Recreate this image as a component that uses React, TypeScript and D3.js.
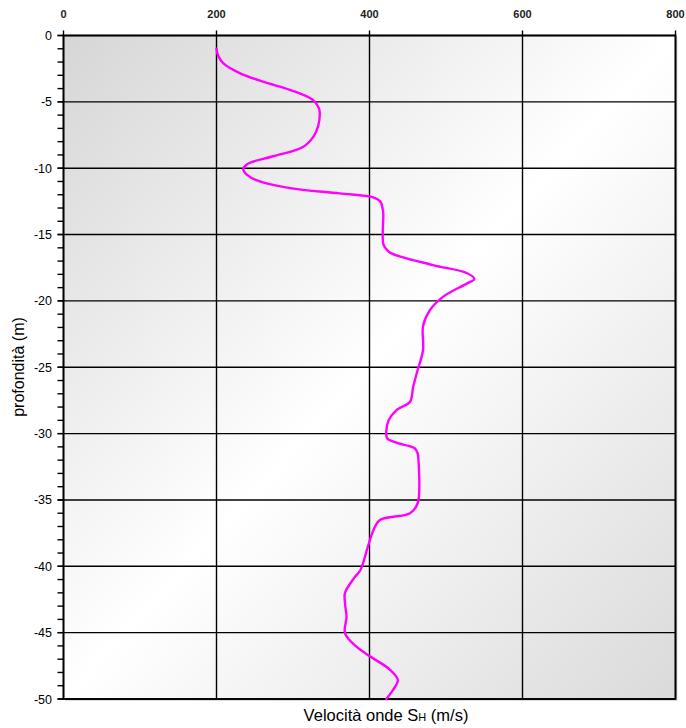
import React from "react";
import * as d3 from "d3";

// Shear-wave velocity profile: depth (m) vs Vs (m/s)
const depths: number[] = [
  -1.0, -1.5, -2.1, -2.85, -3.5, -4.1, -4.86, -5.5, -5.9, -6.8, -7.6, -8.4, -9.1, -9.7,
  -10.1, -10.5, -10.9, -11.5, -11.9, -12.2, -12.5, -13.0, -13.4, -15.7, -16.1, -16.4,
  -17.3, -17.9, -18.35, -18.7, -19.7, -20.7, -21.9, -23.7, -25.4, -26.5, -27.6, -28.2,
  -29.0, -29.8, -30.35, -30.7, -31.1, -31.5, -32.0, -35.25, -36.0, -36.5, -37.3, -38.5,
  -40.3, -40.8, -42.0, -42.8, -43.8, -45.05, -46.06, -46.8, -47.8, -48.57, -49.3, -50.0,
];
const velocities: number[] = [
  200, 202, 209, 231, 262, 296, 326, 334, 335, 333, 327, 313, 274, 240,
  235, 240, 252, 296, 361, 405, 414, 417, 418, 418, 422, 428,
  483, 527, 537, 527, 496, 479, 470, 470, 462, 457, 453, 436,
  425, 422, 423, 436, 459, 463, 464, 463, 453, 414, 405, 398,
  388, 381, 368, 368, 370, 368, 383, 401, 427, 437, 431, 422,
];
const xTicks: number[] = [0, 200, 400, 600, 800];
const yTicks: number[] = [0, -5, -10, -15, -20, -25, -30, -35, -40, -45, -50];
const yMinorTicks: number[] = d3.range(0, -51, -1);

const W = 686;
const H = 728;
const left = 63.5;
const right = 675.5;
const top = 35.5;
const bottom = 699;

export default function App() {
  const x = d3.scaleLinear().domain([0, 800]).range([left, right]);
  const y = d3.scaleLinear().domain([0, -50]).range([top, bottom]);

  const points = depths.map((d, i) => [velocities[i], d] as [number, number]);
  const line = d3
    .line<[number, number]>()
    .x((p) => x(p[0]))
    .y((p) => y(p[1]))
    .curve(d3.curveCatmullRom.alpha(0.5));

  const font = "'Liberation Sans', Arial, sans-serif";

  return (
    <svg
      width={W}
      height={H}
      style={{ position: "absolute", left: 0, top: 0, background: "#fff" }}
    >
      <defs>
        <linearGradient id="bg" x1="0" y1="0" x2="1" y2="1">
          <stop offset="0" stopColor="#d6d6d6" />
          <stop offset="0.5" stopColor="#ffffff" />
          <stop offset="1" stopColor="#dadada" />
        </linearGradient>
      </defs>

      {/* drop shadow of the plot frame */}
      <rect
        x={left + 2}
        y={top + 2}
        width={right - left}
        height={bottom - top}
        fill="#bbbbbb"
        opacity={0.5}
      />
      <rect
        x={left}
        y={top}
        width={right - left}
        height={bottom - top}
        fill="url(#bg)"
      />

      {/* grid */}
      {xTicks.map((t) => (
        <line
          key={"gx" + t}
          x1={x(t)}
          x2={x(t)}
          y1={top - 5}
          y2={bottom}
          stroke="#000"
          strokeWidth={1.4}
        />
      ))}
      {yTicks.map((t) => (
        <line
          key={"gy" + t}
          x1={left - 6}
          x2={right}
          y1={y(t)}
          y2={y(t)}
          stroke="#000"
          strokeWidth={1.4}
        />
      ))}
      {yMinorTicks.map((t) => (
        <line
          key={"my" + t}
          x1={left - 6}
          x2={left}
          y1={y(t)}
          y2={y(t)}
          stroke="#000"
          strokeWidth={1.4}
        />
      ))}

      {/* frame */}
      <rect
        x={left}
        y={top}
        width={right - left}
        height={bottom - top}
        fill="none"
        stroke="#000"
        strokeWidth={1.8}
      />

      {/* profile */}
      <path
        d={line(points) || ""}
        fill="none"
        stroke="#ff00ff"
        strokeWidth={2.4}
        strokeLinejoin="round"
        strokeLinecap="round"
      />

      {/* top axis labels */}
      {xTicks.map((t) => (
        <text
          key={"lx" + t}
          x={x(t)}
          y={18}
          textAnchor="middle"
          fontFamily={font}
          fontSize={11}
          fontWeight="bold"
          fill="#222"
        >
          {t}
        </text>
      ))}

      {/* left axis labels */}
      {yTicks.map((t) => (
        <text
          key={"ly" + t}
          x={52}
          y={y(t) + 4.5}
          textAnchor="end"
          fontFamily={font}
          fontSize={12.5}
          fill="#000"
        >
          {t}
        </text>
      ))}

      {/* axis titles */}
      <text
        transform={`translate(24, ${(312 + 422) / 2}) rotate(-90)`}
        textAnchor="middle"
        fontFamily={font}
        fontSize={16}
        fill="#000"
      >
        profondità (m)
      </text>
      <text
        x={386}
        y={721}
        textAnchor="middle"
        fontFamily={font}
        fontSize={16.5}
        fill="#000"
      >
        Velocità onde S<tspan fontSize={11}>H</tspan> (m/s)
      </text>
    </svg>
  );
}
